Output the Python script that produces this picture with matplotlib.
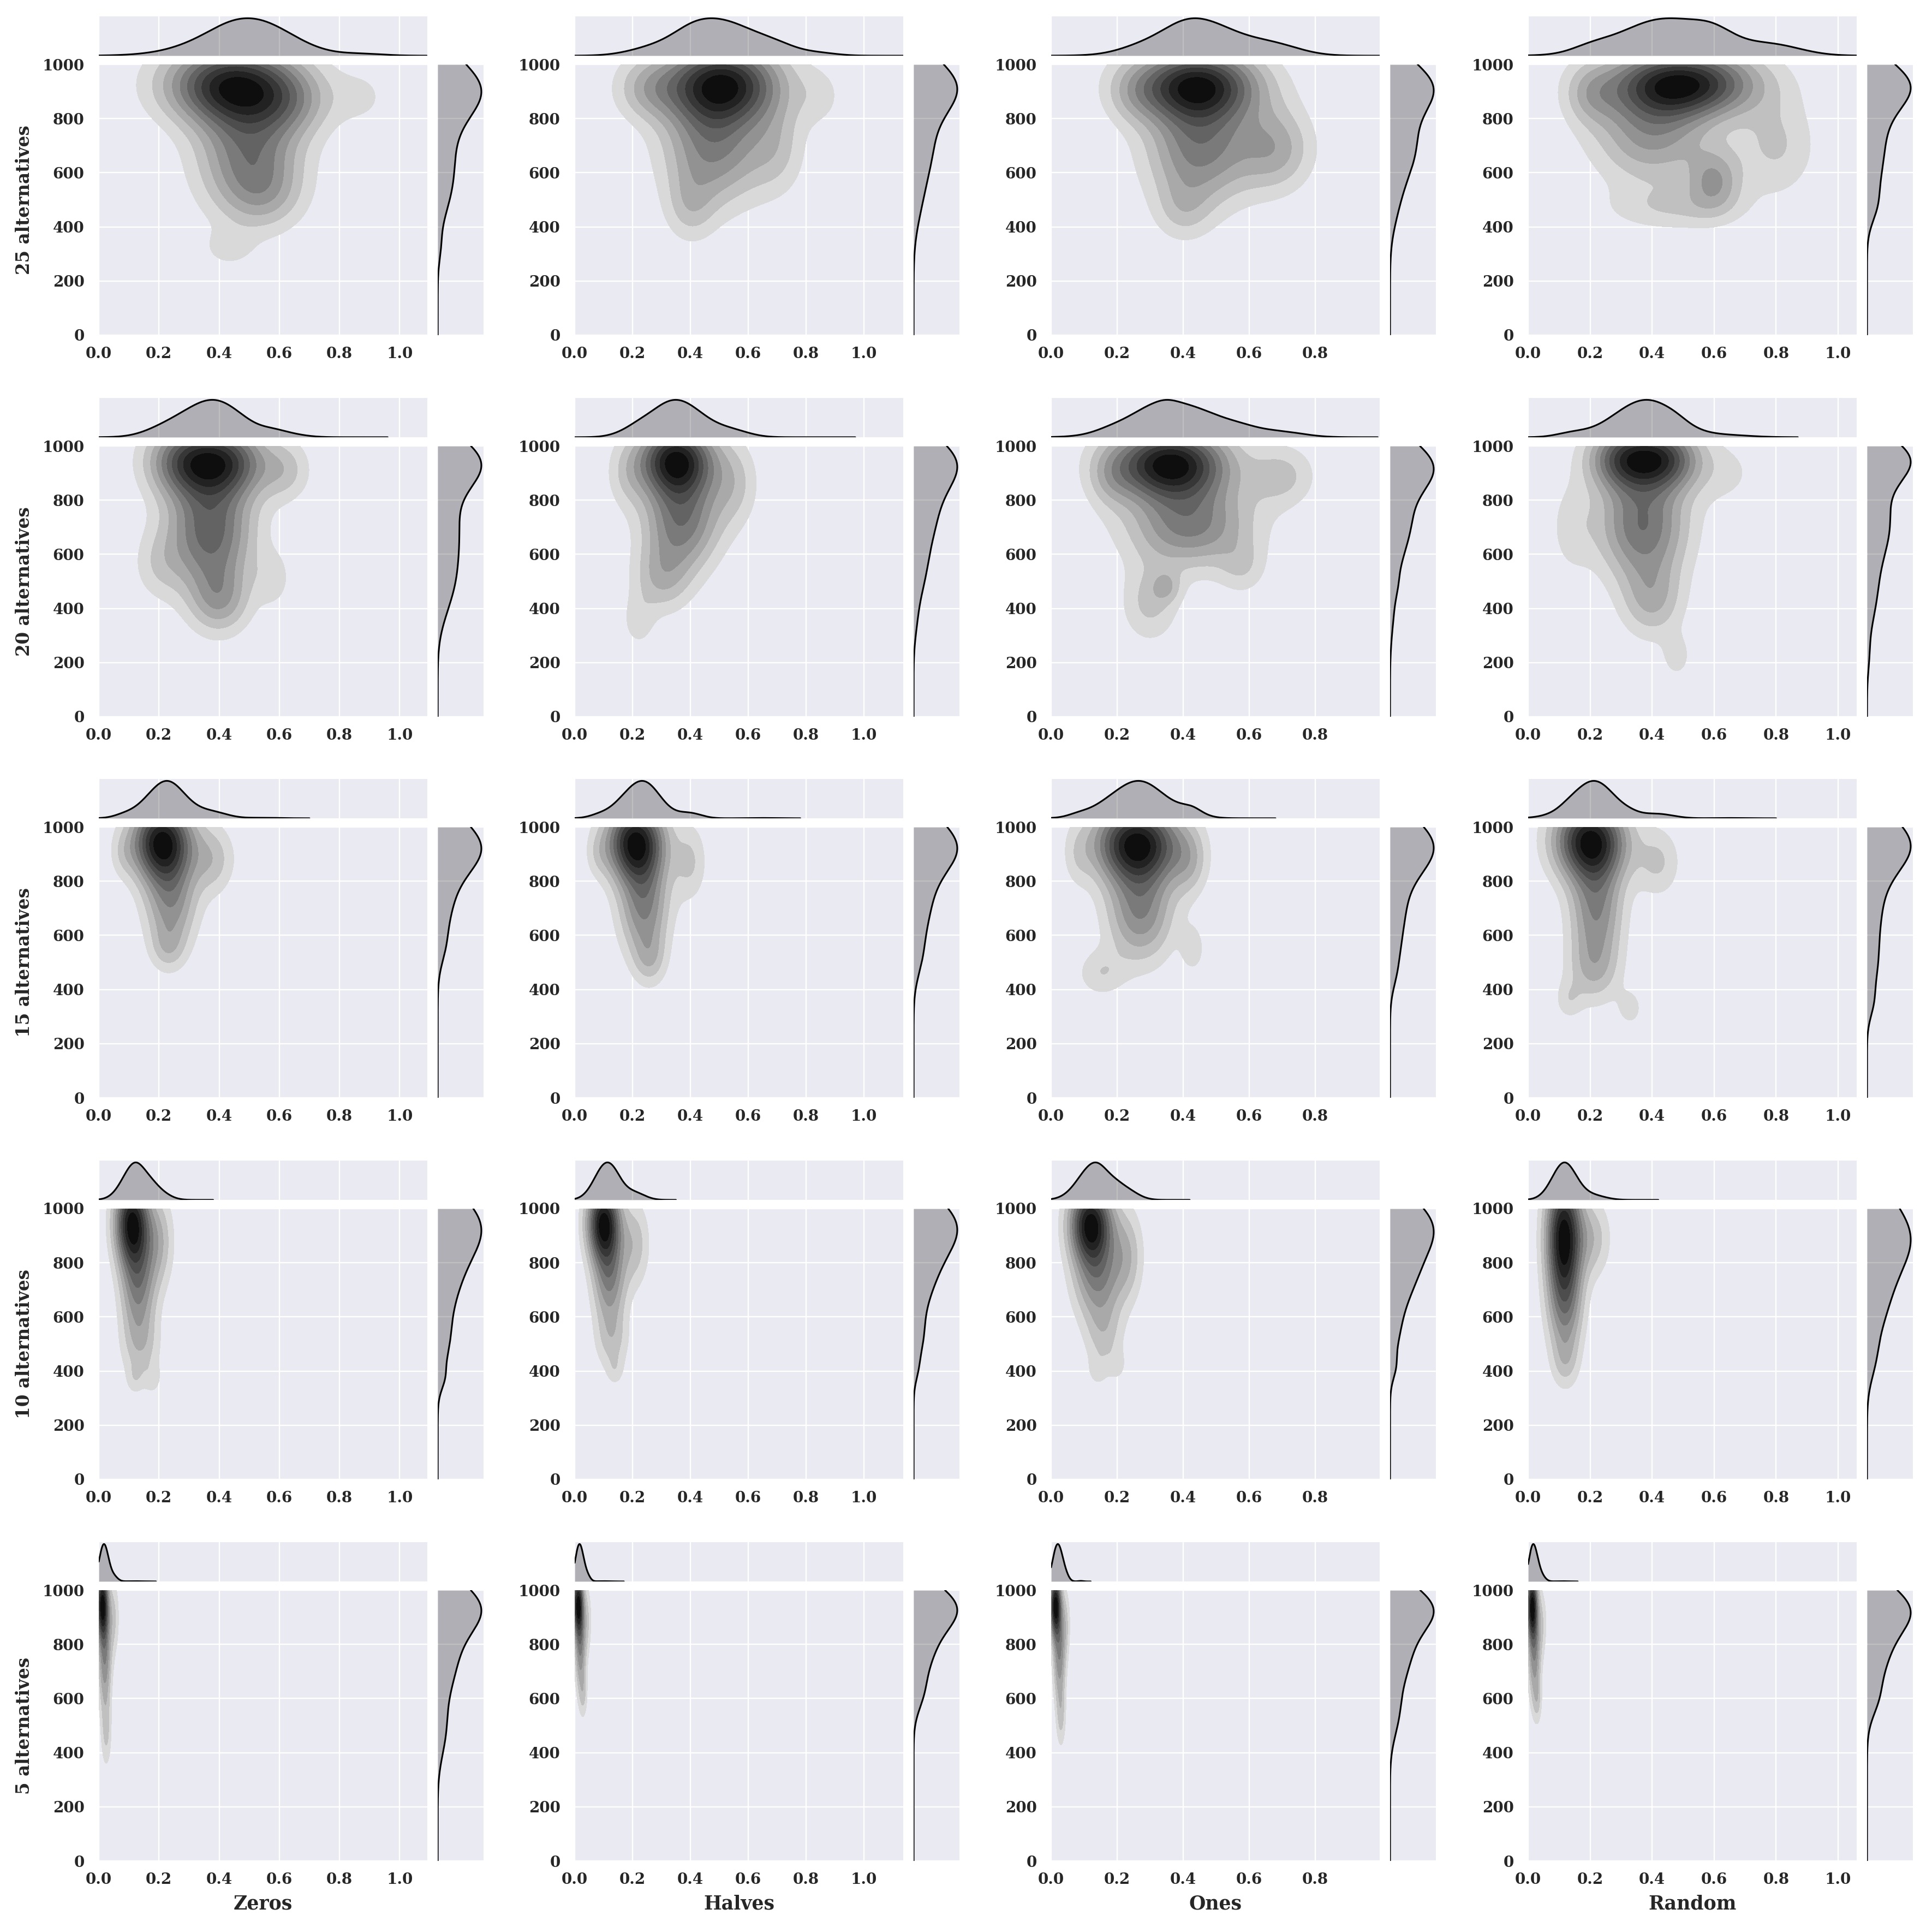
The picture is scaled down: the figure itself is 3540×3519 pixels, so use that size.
import numpy as np
import matplotlib
matplotlib.use("Agg")
import matplotlib.pyplot as plt
import seaborn as sns

# ---- data -------------------------------------------------------------
columns = ["Zeros", "Halves", "Ones", "Random"]
alternatives = [25, 20, 15, 10, 5]
col_xmax = [1.092, 1.136, 0.996, 1.06]
y_ticks = [0, 200, 400, 600, 800, 1000]

# where each panel's kde support ends on x (one list per row, cols = init)
x_support_25 = [1.09, 1.14, 1.00, 1.06]
x_support_20 = [0.96, 0.97, 0.99, 0.87]
x_support_15 = [0.70, 0.78, 0.68, 0.80]
x_support_10 = [0.38, 0.35, 0.42, 0.42]
x_support_5 = [0.19, 0.17, 0.12, 0.16]

# density blobs: (x centre, y centre, x spread, y spread, height)
zeros_25 = [(0.44, 925, 0.15, 100, 0.60), (0.50, 680, 0.12, 160, 0.36),
            (0.55, 520, 0.09, 90, 0.12), (0.64, 860, 0.10, 90, 0.15),
            (0.88, 880, 0.07, 80, 0.07), (0.43, 320, 0.06, 50, 0.08)]
halves_25 = [(0.51, 930, 0.14, 100, 0.60), (0.48, 700, 0.12, 150, 0.33),
             (0.40, 470, 0.06, 90, 0.12), (0.70, 690, 0.07, 120, 0.12),
             (0.85, 880, 0.06, 80, 0.07), (0.25, 910, 0.08, 80, 0.15)]
ones_25 = [(0.44, 925, 0.13, 90, 0.55), (0.45, 700, 0.11, 150, 0.33),
           (0.40, 460, 0.06, 80, 0.10), (0.68, 690, 0.08, 110, 0.20),
           (0.25, 890, 0.06, 80, 0.08)]
random_25 = [(0.50, 930, 0.16, 85, 0.55), (0.40, 750, 0.13, 130, 0.25),
             (0.60, 570, 0.06, 80, 0.20), (0.80, 700, 0.09, 130, 0.12),
             (0.47, 470, 0.15, 60, 0.10), (0.20, 890, 0.06, 80, 0.12)]

zeros_20 = [(0.29, 945, 0.09, 90, 0.35), (0.43, 945, 0.09, 90, 0.35),
            (0.37, 690, 0.10, 150, 0.36), (0.40, 430, 0.07, 90, 0.18),
            (0.58, 510, 0.04, 70, 0.08), (0.20, 560, 0.06, 90, 0.08),
            (0.62, 910, 0.06, 80, 0.12)]
halves_20 = [(0.35, 950, 0.09, 90, 0.55), (0.37, 730, 0.09, 130, 0.33),
             (0.30, 510, 0.07, 90, 0.15), (0.22, 350, 0.04, 70, 0.08),
             (0.55, 860, 0.06, 110, 0.12), (0.18, 890, 0.05, 90, 0.08)]
ones_20 = [(0.36, 935, 0.12, 90, 0.55), (0.42, 710, 0.13, 110, 0.28),
           (0.30, 420, 0.06, 100, 0.12), (0.35, 480, 0.03, 40, 0.09),
           (0.58, 550, 0.05, 70, 0.08), (0.70, 890, 0.07, 80, 0.12),
           (0.18, 880, 0.05, 80, 0.08)]
random_20 = [(0.31, 955, 0.08, 80, 0.35), (0.44, 955, 0.08, 80, 0.35),
             (0.37, 710, 0.10, 140, 0.31), (0.40, 430, 0.07, 100, 0.15),
             (0.48, 220, 0.035, 60, 0.07), (0.64, 900, 0.08, 90, 0.06),
             (0.14, 700, 0.05, 120, 0.07)]

zeros_15 = [(0.21, 945, 0.07, 100, 0.60), (0.24, 720, 0.06, 120, 0.26),
            (0.23, 550, 0.04, 60, 0.10), (0.38, 880, 0.05, 90, 0.14),
            (0.08, 900, 0.03, 60, 0.06), (0.55, 900, 0.05, 60, 0.02)]
halves_15 = [(0.21, 945, 0.07, 100, 0.60), (0.24, 710, 0.06, 130, 0.30),
             (0.26, 510, 0.04, 70, 0.12), (0.40, 870, 0.04, 100, 0.12),
             (0.08, 900, 0.03, 60, 0.06), (0.65, 900, 0.05, 50, 0.015)]
ones_15 = [(0.26, 940, 0.09, 100, 0.58), (0.27, 690, 0.07, 130, 0.28),
           (0.15, 460, 0.05, 60, 0.10), (0.43, 550, 0.025, 60, 0.09),
           (0.42, 870, 0.04, 90, 0.12), (0.08, 890, 0.03, 80, 0.06)]
random_15 = [(0.20, 950, 0.08, 100, 0.58), (0.22, 700, 0.06, 140, 0.28),
             (0.21, 470, 0.06, 90, 0.14), (0.13, 360, 0.03, 50, 0.08),
             (0.33, 330, 0.03, 50, 0.08), (0.42, 870, 0.05, 90, 0.12),
             (0.65, 900, 0.05, 50, 0.015)]

zeros_10 = [(0.11, 950, 0.04, 110, 0.55), (0.13, 720, 0.04, 130, 0.28),
            (0.14, 490, 0.045, 90, 0.12), (0.12, 370, 0.02, 40, 0.06),
            (0.18, 370, 0.02, 40, 0.06), (0.20, 880, 0.035, 120, 0.15)]
halves_10 = [(0.10, 950, 0.04, 100, 0.58), (0.12, 740, 0.04, 120, 0.28),
             (0.13, 510, 0.04, 80, 0.12), (0.14, 400, 0.02, 40, 0.06),
             (0.21, 870, 0.035, 110, 0.14)]
ones_10 = [(0.12, 945, 0.045, 100, 0.58), (0.14, 740, 0.05, 110, 0.26),
           (0.16, 530, 0.04, 90, 0.12), (0.14, 400, 0.02, 40, 0.06),
           (0.20, 420, 0.02, 40, 0.06), (0.23, 830, 0.035, 120, 0.15)]
random_10 = [(0.115, 900, 0.04, 160, 0.65), (0.12, 620, 0.04, 130, 0.24),
             (0.12, 430, 0.03, 70, 0.10), (0.21, 890, 0.04, 100, 0.15)]

zeros_5 = [(0.012, 950, 0.014, 90, 0.60), (0.02, 740, 0.015, 130, 0.28),
           (0.025, 470, 0.012, 90, 0.12), (0.05, 900, 0.013, 100, 0.12),
           (0.12, 900, 0.03, 60, 0.01)]
halves_5 = [(0.012, 950, 0.013, 80, 0.60), (0.02, 780, 0.013, 110, 0.28),
            (0.03, 610, 0.01, 60, 0.10), (0.045, 890, 0.01, 90, 0.10),
            (0.10, 900, 0.025, 50, 0.01)]
ones_5 = [(0.013, 945, 0.012, 80, 0.60), (0.025, 760, 0.013, 120, 0.28),
          (0.03, 530, 0.01, 80, 0.12), (0.045, 880, 0.01, 90, 0.10),
          (0.09, 900, 0.008, 50, 0.02)]
random_5 = [(0.013, 945, 0.012, 85, 0.60), (0.02, 760, 0.014, 120, 0.28),
            (0.03, 590, 0.01, 60, 0.10), (0.045, 880, 0.012, 90, 0.10),
            (0.11, 900, 0.02, 50, 0.01)]

panels = [
    [zeros_25, halves_25, ones_25, random_25],
    [zeros_20, halves_20, ones_20, random_20],
    [zeros_15, halves_15, ones_15, random_15],
    [zeros_10, halves_10, ones_10, random_10],
    [zeros_5, halves_5, ones_5, random_5],
]
x_support = [x_support_25, x_support_20, x_support_15, x_support_10, x_support_5]

# ---- style ------------------------------------------------------------
sns.set_style("darkgrid")
plt.rcParams["font.family"] = ["DejaVu Serif"]
plt.rcParams["font.weight"] = "bold"
plt.rcParams["axes.labelweight"] = "bold"

W, H = 3541, 3519
fig = plt.figure(figsize=(W / 100, H / 100), dpi=100)

main_lefts = [181, 1053, 1926, 2800]
main_tops = [118, 817, 1515, 2214, 2913]
main_w, main_h = 602, 496
marg_gap_x, marg_w = 19, 84
marg_gap_y, marg_h = 16, 72

grays = [0.851, 0.753, 0.663, 0.573, 0.478, 0.388, 0.30, 0.216, 0.133, 0.055]
band_colors = [(0, 0, 0, 0)] + [(g, g, g, 1) for g in grays]

for r, n_alt in enumerate(alternatives):
    for c, col_name in enumerate(columns):
        left, top = main_lefts[c], main_tops[r]
        ax = fig.add_axes([left / W, 1 - (top + main_h) / H, main_w / W, main_h / H])
        ax_top = fig.add_axes([left / W, 1 - (top - marg_gap_y) / H,
                               main_w / W, marg_h / H], sharex=ax)
        ax_right = fig.add_axes([(left + main_w + marg_gap_x) / W,
                                 1 - (top + main_h) / H, marg_w / W, main_h / H],
                                sharey=ax)

        xs = np.linspace(0, x_support[r][c], 300)
        ys = np.linspace(0, 1000, 300)
        X, Y = np.meshgrid(xs, ys)
        Z = np.zeros_like(X)
        for mx, my, sx, sy, h in panels[r][c]:
            Z += h * np.exp(-0.5 * ((X - mx) / sx) ** 2 - 0.5 * ((Y - my) / sy) ** 2)
        dx = Z.sum(axis=0)
        dy = Z.sum(axis=1)

        levels = np.linspace(0, Z.max(), 12)
        ax.contourf(X, Y, Z, levels=levels, colors=band_colors, antialiased=False)

        ax.set_xlim(0, col_xmax[c])
        ax.set_ylim(0, 1000)
        ax.set_xticks([t for t in np.arange(0, 1.01, 0.2) if t <= col_xmax[c]])
        ax.set_yticks(y_ticks)
        ax.xaxis.set_major_formatter(plt.FormatStrFormatter("%.1f"))
        ax.tick_params(axis="x", labelsize=20, pad=15, length=0)
        ax.tick_params(axis="y", labelsize=20, pad=19, length=0)
        for ax_ in (ax, ax_top, ax_right):
            for sp in ax_.spines.values():
                sp.set_visible(False)
            ax_.grid(color="white", linewidth=1.7)

        ax_top.fill_between(xs, dx, color="black", alpha=0.25, linewidth=0)
        ax_top.plot(xs, dx, color="black", linewidth=2.2)
        ax_top.set_ylim(0, dx.max() * 1.05)
        ax_top.yaxis.grid(False)
        ax_top.tick_params(labelbottom=False, labelleft=False, length=0)

        ax_right.fill_betweenx(ys, dy, color="black", alpha=0.25, linewidth=0)
        ax_right.plot(dy, ys, color="black", linewidth=2.2)
        ax_right.set_xlim(0, dy.max() * 1.05)
        ax_right.xaxis.grid(False)
        ax_right.tick_params(labelbottom=False, labelleft=False, length=0)

        if c == 0:
            ax.set_ylabel(f"{n_alt} alternatives", fontsize=23.5)
            ax.yaxis.set_label_coords(-0.20, 0.5)
        if r == len(alternatives) - 1:
            ax.set_xlabel(col_name, fontsize=25)
            ax.xaxis.set_label_coords(0.5, -0.125)

fig.savefig("out.png", dpi=100, facecolor="white")
